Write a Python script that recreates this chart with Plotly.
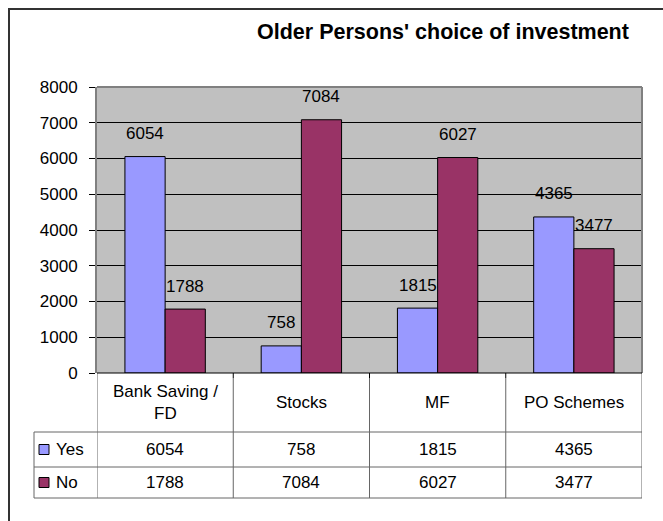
import plotly.graph_objects as go

# Survey counts per investment option
categories = ["Bank Saving /<br>FD", "Stocks", "MF", "PO Schemes"]
series_names = ["Yes", "No"]
yes_values = [6054, 758, 1815, 4365]
no_values = [1788, 7084, 6027, 3477]
y_ticks = [0, 1000, 2000, 3000, 4000, 5000, 6000, 7000, 8000]

colors = {"Yes": "#9999FF", "No": "#993366"}
FONT = "Liberation Sans, Arial, sans-serif"
FS = 17

W, H = 663, 521
ML, MR, MT, MB = 97, 21, 87, 148
PW, PH = W - ML - MR, H - MT - MB
BARGAP = 0.41


def px_x(px):
    return (px - ML) / PW


def px_y(py):
    return (H - MB - py) / PH


def note(**kw):
    base = dict(showarrow=False, xanchor="center", yanchor="middle",
                font=dict(family=FONT, size=FS, color="black"))
    base.update(kw)
    return base


fig = go.Figure()
series = list(zip(series_names, [yes_values, no_values]))
for name, vals in series:
    fig.add_trace(go.Bar(
        x=list(range(len(categories))), y=vals, name=name,
        marker=dict(color=colors[name], line=dict(color="black", width=1)),
        showlegend=False, hoverinfo="skip",
    ))

annotations = []
shapes = []

# value labels above the bars
half = (1 - BARGAP) / 4
for k, (name, vals) in enumerate(series):
    off = -half if k == 0 else half
    for i, v in enumerate(vals):
        annotations.append(note(x=i + off, y=v, xref="x", yref="y",
                                text=str(v), yshift=23))

# data table below the plot
line_col = "#666666"
y_axis = 0.0
y_head = px_y(432)
y_row1 = px_y(467)
y_row2 = px_y(498)
x_left = px_x(34)
n = len(categories)

# horizontal rules
for yy in (y_head, y_row1, y_row2):
    shapes.append(dict(type="line", xref="paper", yref="paper",
                       x0=x_left, x1=1, y0=yy, y1=yy,
                       line=dict(color=line_col, width=1)))
# vertical rules between categories
for i in range(n + 1):
    inner = 0 < i < n
    shapes.append(dict(type="line", xref="x", yref="paper",
                       x0=i - 0.5, x1=i - 0.5, y0=px_y(378) if inner else y_axis, y1=y_row2,
                       line=dict(color=line_col, width=1)))
    if inner:
        shapes.append(dict(type="line", xref="x", yref="paper",
                           x0=i - 0.5, x1=i - 0.5, y0=y_axis, y1=px_y(378),
                           line=dict(color="black", width=1)))
shapes.append(dict(type="line", xref="paper", yref="paper",
                   x0=x_left, x1=x_left, y0=y_head, y1=y_row2,
                   line=dict(color=line_col, width=1)))

# category headers
for i, c in enumerate(categories):
    annotations.append(note(x=i, y=px_y(402), xref="x", yref="paper", text=c,
                            align="center"))

# series rows with legend keys
row_centers = [(y_head + y_row1) / 2, (y_row1 + y_row2) / 2]
for (name, vals), yc in zip(series, row_centers):
    k_half = 5 / PH
    shapes.append(dict(type="rect", xref="paper", yref="paper",
                       x0=px_x(39), x1=px_x(49), y0=yc - k_half, y1=yc + k_half,
                       fillcolor=colors[name], line=dict(color="black", width=1)))
    annotations.append(note(x=px_x(54), y=yc, xref="paper", yref="paper",
                            text=name, xanchor="left"))
    for i, v in enumerate(vals):
        annotations.append(note(x=i, y=yc, xref="x", yref="paper", text=str(v)))

# plot area frame (top and right edges)
shapes.append(dict(type="line", xref="paper", yref="paper", x0=0, x1=1, y0=1, y1=1,
                   line=dict(color="#808080", width=2)))
shapes.append(dict(type="line", xref="paper", yref="paper", x0=1, x1=1, y0=0, y1=1,
                   line=dict(color="#808080", width=2)))
# x axis line
shapes.append(dict(type="line", xref="paper", yref="paper", x0=0, x1=1, y0=0, y1=0,
                   line=dict(color="black", width=1)))

# chart border
shapes.append(dict(type="rect", xref="paper", yref="paper",
                   x0=px_x(9), x1=px_x(700), y0=px_y(9), y1=px_y(560),
                   line=dict(color="#333333", width=2), fillcolor="rgba(0,0,0,0)",
                   layer="above"))

# title
annotations.append(note(
    x=px_x(443), y=px_y(32), xref="paper", yref="paper",
    text="<b>Older Persons' choice of investment</b>",
    font=dict(family=FONT, size=21.5, color="black"),
))

fig.update_layout(
    width=W, height=H,
    margin=dict(l=ML, r=MR, t=MT, b=MB),
    paper_bgcolor="white", plot_bgcolor="#C0C0C0",
    barmode="group", bargap=BARGAP, bargroupgap=0,
    xaxis=dict(range=[-0.5, n - 0.5], showticklabels=False, showgrid=False,
               zeroline=False, ticks=""),
    yaxis=dict(range=[0, 8000], tickvals=y_ticks, showgrid=True, gridcolor="black",
               gridwidth=1, zeroline=False, showline=True, linecolor="#808080",
               linewidth=2, ticks="outside", ticklen=6, tickcolor="black",
               ticklabelstandoff=8,
               tickfont=dict(family=FONT, size=FS, color="black")),
    annotations=annotations, shapes=shapes,
)

fig.write_html("out.html")
